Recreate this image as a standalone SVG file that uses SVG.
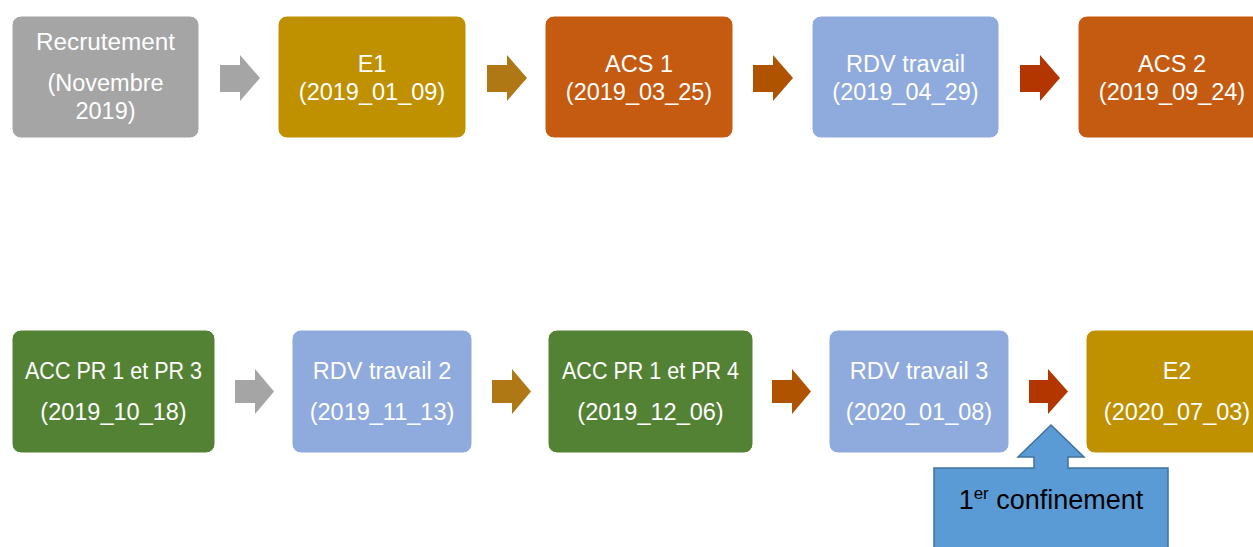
<svg xmlns="http://www.w3.org/2000/svg" width="1253" height="547" viewBox="0 0 1253 547">
<style>
text{font-family:"Liberation Sans",Arial,sans-serif;font-size:23.5px;fill:#fff;text-anchor:middle}
.gray{fill:#A5A5A5}.gold{fill:#BF9000}.orange{fill:#C55A11}.blue{fill:#8FAADC}.green{fill:#548235}
.box{stroke:#fff;stroke-width:1}
.t{fill:#000;font-size:27px}
</style>
<rect width="1253" height="547" fill="#fff"/>
<g id="n1"><rect class="box gray" x="12" y="16" width="187" height="122" rx="9"/><text x="105.5" y="50" textLength="139" lengthAdjust="spacingAndGlyphs">Recrutement</text><text x="105.5" y="91">(Novembre</text><text x="105.5" y="119">2019)</text></g>
<g id="n2"><rect class="box gold" x="278" y="16" width="188" height="122" rx="9"/><text x="372" y="72">E1</text><text x="372" y="100">(2019_01_09)</text></g>
<g id="n3"><rect class="box orange" x="545" y="16" width="188" height="122" rx="9"/><text x="639" y="72">ACS 1</text><text x="639" y="100">(2019_03_25)</text></g>
<g id="n4"><rect class="box blue" x="812" y="16" width="187" height="122" rx="9"/><text x="905.5" y="72">RDV travail</text><text x="905.5" y="100">(2019_04_29)</text></g>
<g id="n5"><rect class="box orange" x="1078" y="16" width="188" height="122" rx="9"/><text x="1172" y="72">ACS 2</text><text x="1172" y="100">(2019_09_24)</text></g>
<g id="n6"><rect class="box green" x="12" y="330" width="203" height="123" rx="9"/><text x="113.5" y="379" textLength="177" lengthAdjust="spacingAndGlyphs">ACC PR 1 et PR 3</text><text x="113.5" y="420">(2019_10_18)</text></g>
<g id="n7"><rect class="box blue" x="292" y="330" width="180" height="123" rx="9"/><text x="382" y="379">RDV travail 2</text><text x="382" y="420">(2019_11_13)</text></g>
<g id="n8"><rect class="box green" x="548" y="330" width="205" height="123" rx="9"/><text x="650.5" y="379" textLength="177" lengthAdjust="spacingAndGlyphs">ACC PR 1 et PR 4</text><text x="650.5" y="420">(2019_12_06)</text></g>
<g id="n9"><rect class="box blue" x="829" y="330" width="180" height="123" rx="9"/><text x="919" y="379">RDV travail 3</text><text x="919" y="420">(2020_01_08)</text></g>
<g id="n10"><rect class="box gold" x="1086" y="330" width="182" height="123" rx="9"/><text x="1177" y="379">E2</text><text x="1177" y="420">(2020_07_03)</text></g>
<g id="connectors">
<polygon fill="#A5A5A5" points="220,65 240,65 240,55 260,78 240,101 240,92 220,92"/>
<polygon fill="#AF7814" points="487,65 507,65 507,55 527,78 507,101 507,92 487,92"/>
<polygon fill="#B05300" points="753,65 773,65 773,55 793,78 773,101 773,92 753,92"/>
<polygon fill="#B33600" points="1020,65 1040,65 1040,55 1060,78 1040,101 1040,92 1020,92"/>
<polygon fill="#A5A5A5" points="235,380 255,380 255,369 274,391.5 255,414 255,403 235,403"/>
<polygon fill="#AF7814" points="492,380 512,380 512,369 531,391.5 512,414 512,403 492,403"/>
<polygon fill="#B05300" points="772,380 792,380 792,369 811,391.5 792,414 792,403 772,403"/>
<polygon fill="#B33600" points="1029,380 1048,380 1048,369 1068,391.5 1048,414 1048,403 1029,403"/>
</g>
<g id="callout">
<polygon fill="#5B9BD5" stroke="#41719C" stroke-width="1.5" points="934,468 1034,468 1034,457 1018,457 1051,425 1084,457 1068,457 1068,468 1168,468 1168,560 934,560"/>
<text class="t" x="1051" y="509">1<tspan font-size="17" dy="-10">er</tspan><tspan dy="10"> confinement</tspan></text>
</g>
</svg>
